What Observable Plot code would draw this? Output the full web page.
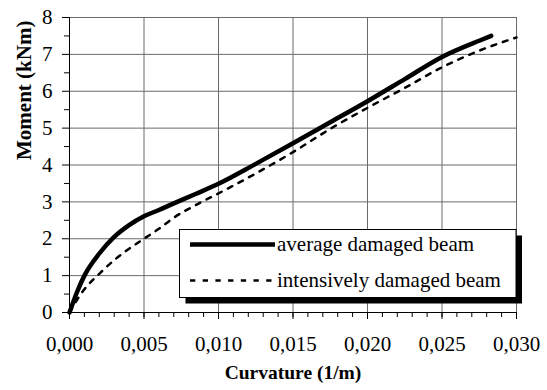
<!DOCTYPE html>
<html>
<head>
<meta charset="utf-8">
<script src="https://cdn.jsdelivr.net/npm/d3@7"></script>
<script src="https://cdn.jsdelivr.net/npm/@observablehq/plot@0.6"></script>
<style>
  body { margin: 0; background: white; font-family: "Liberation Serif", serif; }
  #chart svg { display: block; }
</style>
</head>
<body>
<div id="chart"></div>
<script>
// Moment–curvature curves of two damaged beams
const seriesNames = ["average damaged beam", "intensively damaged beam"];

const avgCurvature = [0, 0.0005, 0.001, 0.002, 0.003, 0.004, 0.005, 0.006, 0.007, 0.0085, 0.010, 0.0125, 0.015, 0.0175, 0.020, 0.0225, 0.025, 0.0275, 0.0283];
const avgMoment    = [0, 0.55, 1.0, 1.6, 2.05, 2.37, 2.61, 2.78, 2.96, 3.22, 3.49, 4.03, 4.59, 5.16, 5.73, 6.33, 6.93, 7.37, 7.5];

const intCurvature = [0, 0.0005, 0.001, 0.002, 0.003, 0.004, 0.005, 0.006, 0.007, 0.0085, 0.010, 0.0125, 0.015, 0.0175, 0.020, 0.0225, 0.025, 0.0275, 0.030];
const intMoment    = [0, 0.34, 0.63, 1.05, 1.42, 1.73, 2.0, 2.27, 2.57, 2.92, 3.23, 3.77, 4.35, 4.98, 5.55, 6.09, 6.65, 7.1, 7.46];

const xTicks = [0, 0.005, 0.010, 0.015, 0.020, 0.025, 0.030];
const yTicks = [0, 1, 2, 3, 4, 5, 6, 7, 8];
const xMinorTicks = d3.range(0, 31).map(i => i / 1000);
const yMinorTicks = d3.range(0, 8).map(i => i + 0.5);

const xTitle = "Curvature (1/m)";
const yTitle = "Moment (kNm)";

const avgRows = avgCurvature.map((c, i) => ({c, m: avgMoment[i]}));
const intRows = intCurvature.map((c, i) => ({c, m: intMoment[i]}));

const fmt = d => d.toFixed(3).replace(".", ",");

const chart = Plot.plot({
  width: 547,
  height: 390,
  marginLeft: 69,
  marginRight: 31,
  marginTop: 17,
  marginBottom: 78,
  style: {fontFamily: "Liberation Serif", fontSize: "21px", background: "white", color: "black"},
  x: {domain: [0, 0.03]},
  y: {domain: [0, 8]},
  marks: [
    Plot.gridX(xTicks, {stroke: "#6a6a6a", strokeOpacity: 1, strokeWidth: 1}),
    Plot.gridY(yTicks, {stroke: "#6a6a6a", strokeOpacity: 1, strokeWidth: 1}),
    Plot.line(intRows, {x: "c", y: "m", stroke: "black", strokeWidth: 2.5, strokeDasharray: "5,7", curve: "monotone-x"}),
    Plot.line(avgRows, {x: "c", y: "m", stroke: "black", strokeWidth: 4.5, curve: "monotone-x"}),
    Plot.ruleX([0], {stroke: "black"}),
    Plot.ruleY([0], {stroke: "black"}),
    Plot.axisX(xMinorTicks, {tickSize: 5, text: null, label: null}),
    Plot.axisX(xTicks, {tickSize: 7, tickPadding: 17, tickFormat: fmt, label: null}),
    Plot.axisY(yMinorTicks, {tickSize: 5, text: null, label: null}),
    Plot.axisY(yTicks, {tickSize: 7, tickPadding: 10, tickFormat: d => String(d), label: null}),
    Plot.text([xTitle], {frameAnchor: "bottom", dy: 66, fontSize: 19.5, fontWeight: "bold", text: d => d}),
    Plot.text([yTitle], {frameAnchor: "left", dx: -45, dy: -5, rotate: -90, fontWeight: "bold", text: d => d})
  ]
});

// Legend box with drop shadow
const svg = d3.select(chart);
const lg = svg.append("g").attr("font-size", 21).attr("text-anchor", "start");
const bx = 179.5, by = 229.5, bw = 336.5, bh = 68;
lg.append("rect").attr("x", bx + 6).attr("y", by + 6).attr("width", bw).attr("height", bh).attr("fill", "black");
lg.append("rect").attr("x", bx).attr("y", by).attr("width", bw).attr("height", bh).attr("fill", "white").attr("stroke", "black").attr("stroke-width", 1);
const entries = [
  {name: seriesNames[0], width: 4.5, dash: null, y: 244.5},
  {name: seriesNames[1], width: 2.5, dash: "5.3,7.4", y: 280.5}
];
entries.forEach(e => {
  lg.append("line").attr("x1", 190).attr("x2", 275).attr("y1", e.y).attr("y2", e.y)
    .attr("stroke", "black").attr("stroke-width", e.width).attr("stroke-dasharray", e.dash);
  lg.append("text").attr("x", 277).attr("y", e.y).attr("dy", "0.3em").attr("text-anchor", "start").text(e.name);
});

document.getElementById("chart").appendChild(chart);
</script>
</body>
</html>
